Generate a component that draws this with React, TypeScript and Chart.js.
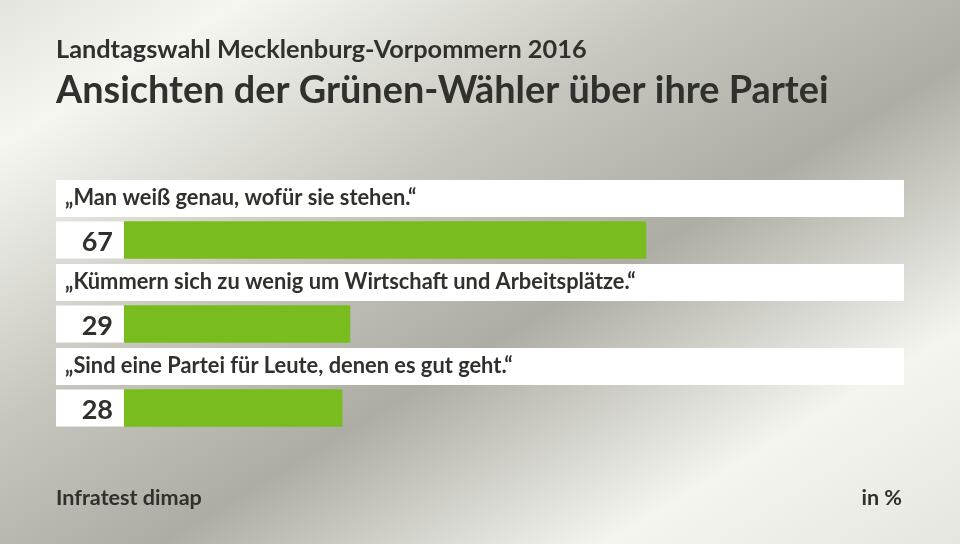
import { useEffect, useRef } from "react";
import { Chart, registerables } from "chart.js";

Chart.register(...registerables);

const categories = [
  "„Man weiß genau, wofür sie stehen.“",
  "„Kümmern sich zu wenig um Wirtschaft und Arbeitsplätze.“",
  "„Sind eine Partei für Leute, denen es gut geht.“",
];
const values = [67, 29, 28];
const subtitleText = "Landtagswahl Mecklenburg-Vorpommern 2016";
const titleText = "Ansichten der Grünen-Wähler über ihre Partei";
const sourceText = "Infratest dimap";
const unitText = "in %";

const FAMILY = "Lato, 'Open Sans', sans-serif";
const TEXT = "#30302d";
const GREEN = "#78bc1e";

function fitSize(ctx: CanvasRenderingContext2D, text: string, weight: string, target: number) {
  ctx.font = `${weight} 100px ${FAMILY}`;
  const w = ctx.measureText(text).width;
  return (100 * target) / w;
}

const decorPlugin = {
  id: "decor",
  beforeDatasetsDraw(chart: any) {
    const ctx: CanvasRenderingContext2D = chart.ctx;
    const area = chart.chartArea;
    const y = chart.scales.y;
    ctx.save();
    ctx.fillStyle = "#ffffff";
    categories.forEach((_, i) => {
      const cy = y.getPixelForValue(i);
      ctx.fillRect(56, cy - 60, 904 - 56, 37);
      ctx.fillRect(56, cy - 18.5, area.left - 56, 37);
    });
    ctx.restore();
  },
  afterDatasetsDraw(chart: any) {
    const ctx: CanvasRenderingContext2D = chart.ctx;
    const area = chart.chartArea;
    const y = chart.scales.y;
    ctx.save();
    ctx.fillStyle = TEXT;
    ctx.textBaseline = "alphabetic";
    ctx.textAlign = "left";

    const s1 = fitSize(ctx, subtitleText, "bold", 531);
    ctx.font = `bold ${s1}px ${FAMILY}`;
    ctx.fillText(subtitleText, 56, 58);

    const s2 = fitSize(ctx, titleText, "bold", 773);
    ctx.font = `bold ${s2}px ${FAMILY}`;
    ctx.fillText(titleText, 56, 103);

    const s3 = fitSize(ctx, categories[1], "bold", 571);
    ctx.font = `bold ${s3}px ${FAMILY}`;
    categories.forEach((c, i) => {
      const cy = y.getPixelForValue(i);
      ctx.fillText(c, 65, cy - 35);
    });

    ctx.font = `bold 27px ${FAMILY}`;
    ctx.textAlign = "right";
    values.forEach((v, i) => {
      const cy = y.getPixelForValue(i);
      ctx.fillText(String(v), area.left - 11, cy + 10.5);
    });

    ctx.textAlign = "left";
    const s4 = fitSize(ctx, sourceText, "bold", 146);
    ctx.font = `bold ${s4}px ${FAMILY}`;
    ctx.fillText(sourceText, 56, 505);
    ctx.textAlign = "right";
    ctx.fillText(unitText, 902, 505);
    ctx.restore();
  },
};

export default function App() {
  const ref = useRef<HTMLCanvasElement>(null);
  useEffect(() => {
    document.body.style.margin = "0";
    const chart = new Chart(ref.current!, {
      type: "bar",
      data: {
        labels: categories,
        datasets: [
          {
            data: values,
            backgroundColor: GREEN,
            barThickness: 37,
            borderWidth: 0,
          },
        ],
      },
      options: {
        indexAxis: "y",
        responsive: false,
        animation: false,
        layout: { padding: { left: 124, right: 57, top: 198, bottom: 94 } },
        scales: {
          x: { display: false, min: 0, max: 100 },
          y: { display: false },
        },
        plugins: {
          legend: { display: false },
          tooltip: { enabled: false },
          title: { display: false },
        },
      },
      plugins: [decorPlugin],
    });
    return () => chart.destroy();
  }, []);
  return (
    <div
      style={{
        position: "relative",
        width: 960,
        height: 544,
        background:
          "linear-gradient(149deg, #e4e4de 0%, #f6f6f1 13%, #c6c6be 38%, #adada5 57%, #f5f5f0 81%, #e6e6e0 100%)",
      }}
    >
      <canvas ref={ref} width={960} height={544} style={{ display: "block" }} />
    </div>
  );
}
